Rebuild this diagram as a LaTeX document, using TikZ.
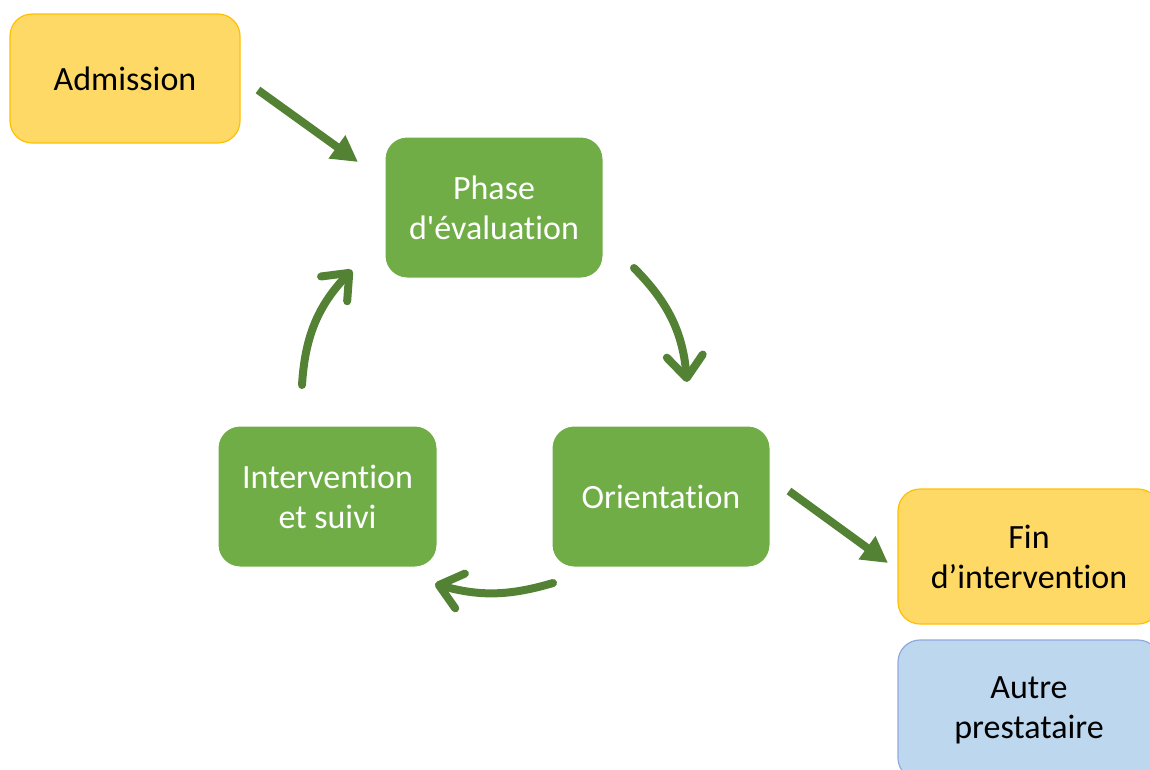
\documentclass[tikz,border=0pt]{standalone}
\usepackage{fontspec}
\newfontfamily\calib{Carlito}[Ligatures={NoCommon}]
\usetikzlibrary{arrows.meta}
\definecolor{yfill}{HTML}{FFD966}
\definecolor{ydraw}{HTML}{FFC000}
\definecolor{gfill}{HTML}{70AD47}
\definecolor{garrow}{HTML}{548235}
\definecolor{bfill}{HTML}{BDD7EE}
\definecolor{bdraw}{HTML}{8FAADC}
\tikzset{
  box/.style={rectangle, rounded corners=22pt, align=center, inner sep=0pt,
    font=\calib\fontsize{34}{40}\selectfont},
  ybox/.style={box, fill=yfill, draw=ydraw, line width=1.2pt, text=black},
  gbox/.style={box, fill=gfill, draw=white, line width=1pt, text=white},
  bbox/.style={box, fill=bfill, draw=bdraw, line width=1.2pt, text=black},
  straightarrow/.style={draw=garrow, line width=8pt, -{Triangle[length=26pt,width=27pt]}},
  curvearrow/.style={draw=garrow, line width=8pt, line cap=round,
    -{Straight Barb[length=22pt,width=36pt,round]}},
}
\begin{document}
\begin{tikzpicture}[x=1pt,y=-1pt]
\useasboundingbox (0,0) rectangle (1150,769);
\clip (0,0) rectangle (1150,769);
\node[ybox, minimum width=230pt, minimum height=129pt] (adm) at (125,78.5) {Admission};
\node[gbox, minimum width=218pt, minimum height=141pt] (eval) at (494,207.5) {Phase\\d'évaluation};
\node[gbox, minimum width=218pt, minimum height=141pt] (orient) at (661,496.5) {Orientation};
\node[gbox, minimum width=219pt, minimum height=141pt] (interv) at (327.5,496.5) {Intervention\\et suivi};
\node[ybox, minimum width=262pt, minimum height=135pt] (fin) at (1029,556.5) {Fin\\d’intervention};
\node[bbox, minimum width=262pt, minimum height=140pt] (autre) at (1029,710) {Autre\\prestataire};

\coordinate (a1s) at (258,90);
\coordinate (a1e) at (358,162);
\coordinate (a2s) at (634,268);
\coordinate (a2e) at (687,382);
\coordinate (a3s) at (553,583);
\coordinate (a3e) at (435,584);
\coordinate (a4s) at (302,385);
\coordinate (a4e) at (352,270);
\coordinate (a5s) at (789,491);
\coordinate (a5e) at (888,563);

\draw[straightarrow] (a1s) -- (a1e);
\draw[curvearrow] (a2s) to[bend left=20] (a2e);
\draw[curvearrow] (a3s) to[bend left=16] (a3e);
\draw[curvearrow] (a4s) to[bend left=20] (a4e);
\draw[straightarrow] (a5s) -- (a5e);
\end{tikzpicture}
\end{document}
